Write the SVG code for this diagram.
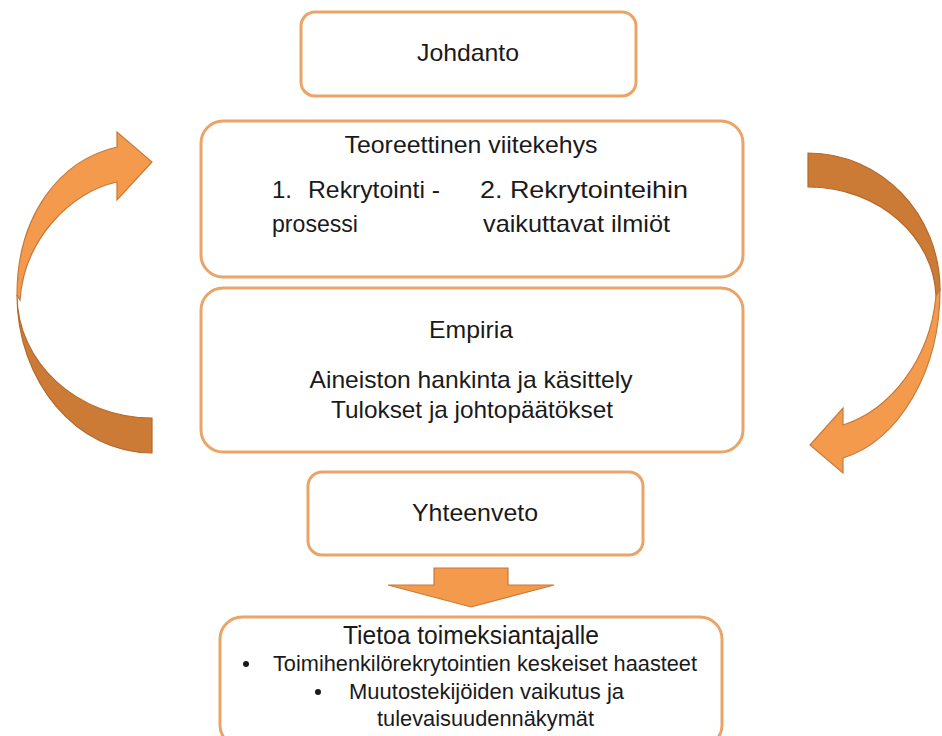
<svg xmlns="http://www.w3.org/2000/svg" width="942" height="736" viewBox="0 0 942 736">
<style>
.box{fill:#fff;stroke:#EBA468;stroke-width:3}
.t{font-family:"Liberation Sans",Arial,sans-serif;font-size:24px;fill:#1a1a1a}
.s{font-size:22px}
.light{fill:#F39A4D;stroke:#C9793A;stroke-width:1.2}
.dark{fill:#CB7B36;stroke:#B56A2B;stroke-width:1.2}
</style>
<rect width="942" height="736" fill="#fff"/>
<g id="connectors">
  <path class="dark" d="M152,418 L152,453 C77,453 17,382 17,295 C17,362 77,418 152,418 Z"/>
  <path class="light" d="M17,295 C17,215 60,160 117,147 L117,132 L152,162 L117,200 L117,182 C70,192 24,240 20,300 Z"/>
  <path class="dark" d="M808,153 C881,153 940,214 940,290 L936,296 C934,238 880,187 808,187 Z"/>
  <path class="light" d="M940,290 C940,370 900,440 843,458 L843,473 L810,445 L843,408 L843,425 C890,410 930,360 936,296 Z"/>
  <path class="light" d="M434,568 L508,568 L508,585 L554,585 L471,607 L388,585 L434,585 Z"/>
</g>
<g id="johdanto">
  <rect class="box" x="301" y="12" width="335" height="84" rx="14"/>
  <text class="t" x="468" y="61" text-anchor="middle" textLength="102" lengthAdjust="spacingAndGlyphs">Johdanto</text>
</g>
<g id="teoreettinen">
  <rect class="box" x="201" y="121" width="542" height="156" rx="22"/>
  <text class="t" x="471" y="153" text-anchor="middle" textLength="253" lengthAdjust="spacingAndGlyphs">Teoreettinen viitekehys</text>
  <text class="t" x="272" y="198">1.</text>
  <text class="t" x="308" y="198" textLength="132" lengthAdjust="spacingAndGlyphs">Rekrytointi -</text>
  <text class="t" x="480" y="198" textLength="208" lengthAdjust="spacingAndGlyphs">2. Rekrytointeihin</text>
  <text class="t" x="272" y="232" textLength="86" lengthAdjust="spacingAndGlyphs">prosessi</text>
  <text class="t" x="483" y="232" textLength="187" lengthAdjust="spacingAndGlyphs">vaikuttavat ilmiöt</text>
</g>
<g id="empiria">
  <rect class="box" x="201" y="288" width="542" height="164" rx="22"/>
  <text class="t" x="471" y="338" text-anchor="middle" textLength="84" lengthAdjust="spacingAndGlyphs">Empiria</text>
  <text class="t" x="471" y="388" text-anchor="middle" textLength="323" lengthAdjust="spacingAndGlyphs">Aineiston hankinta ja käsittely</text>
  <text class="t" x="472" y="418" text-anchor="middle" textLength="282" lengthAdjust="spacingAndGlyphs">Tulokset ja johtopäätökset</text>
</g>
<g id="yhteenveto">
  <rect class="box" x="308" y="472" width="335" height="83" rx="14"/>
  <text class="t" x="475" y="521" text-anchor="middle" textLength="126" lengthAdjust="spacingAndGlyphs">Yhteenveto</text>
</g>
<g id="tietoa">
  <rect class="box" x="220" y="617" width="502" height="130" rx="22"/>
  <text class="t" x="471" y="644" text-anchor="middle" style="font-size:25px" textLength="256" lengthAdjust="spacingAndGlyphs">Tietoa toimeksiantajalle</text>
  <circle cx="246" cy="664" r="3" fill="#1a1a1a"/>
  <text class="t s" x="273" y="671" textLength="424" lengthAdjust="spacingAndGlyphs">Toimihenkilörekrytointien keskeiset haasteet</text>
  <circle cx="318" cy="692" r="3" fill="#1a1a1a"/>
  <text class="t s" x="349" y="699" textLength="275" lengthAdjust="spacingAndGlyphs">Muutostekijöiden vaikutus ja</text>
  <text class="t s" x="377" y="726" textLength="217" lengthAdjust="spacingAndGlyphs">tulevaisuudennäkymät</text>
</g>
</svg>
